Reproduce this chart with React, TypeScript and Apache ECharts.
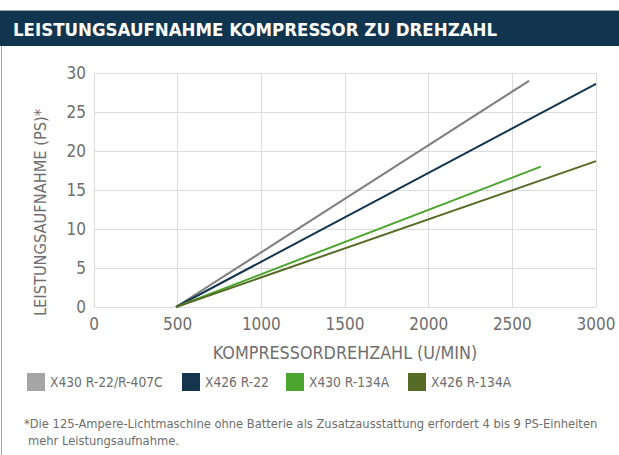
import React, { useEffect, useRef } from "react";
import * as echarts from "echarts";

const TITLE = "LEISTUNGSAUFNAHME KOMPRESSOR ZU DREHZAHL";
const X_NAME = "KOMPRESSORDREHZAHL (U/MIN)";
const Y_NAME = "LEISTUNGSAUFNAHME (PS)*";
const FOOT_1 = "*Die 125-Ampere-Lichtmaschine ohne Batterie als Zusatzausstattung erfordert 4 bis 9 PS-Einheiten";
const FOOT_2 = "mehr Leistungsaufnahme.";

const seriesNames = ["X430 R-22/R-407C", "X426 R-22", "X430 R-134A", "X426 R-134A"];
const lineColors = ["#7f7f7f", "#15354f", "#4ca52e", "#566b26"];
const legendColors = ["#a5a5a5", "#15354f", "#4ca52e", "#566b26"];

// rpm (x) and PS (y) for each series
const rpmX430R22 = [490, 2600];
const psX430R22 = [0, 29];
const rpmX426R22 = [490, 3000];
const psX426R22 = [0, 28.6];
const rpmX430R134A = [490, 2670];
const psX430R134A = [0, 18];
const rpmX426R134A = [490, 3000];
const psX426R134A = [0, 18.7];

const xTicks = [0, 500, 1000, 1500, 2000, 2500, 3000];
const yTicks = [0, 5, 10, 15, 20, 25, 30];

const FONT = '"DejaVu Sans Condensed", "Liberation Sans Narrow", "Open Sans", sans-serif';

const pair = (xs: number[], ys: number[]) => xs.map((x, i) => [x, ys[i]]);

export default function App() {
  const ref = useRef<HTMLDivElement>(null);
  useEffect(() => {
    document.body.style.margin = "0";
    if (!ref.current) return;
    const chart = echarts.init(ref.current, undefined, { renderer: "svg" });
    const data = [
      pair(rpmX430R22, psX430R22),
      pair(rpmX426R22, psX426R22),
      pair(rpmX430R134A, psX430R134A),
      pair(rpmX426R134A, psX426R134A),
    ];
    const legendLeft = [27, 182, 286, 408];
    chart.setOption({
      animation: false,
      backgroundColor: "#ffffff",
      textStyle: { fontFamily: FONT },
      grid: { left: 94, right: 23, top: 73, bottom: 148, containLabel: false },
      xAxis: {
        type: "value",
        min: xTicks[0],
        max: xTicks[xTicks.length - 1],
        interval: 500,
        name: X_NAME,
        nameLocation: "middle",
        nameGap: 36,
        nameTextStyle: { color: "#6e6e6e", fontSize: 17.8, fontFamily: FONT },
        axisLine: { show: true, lineStyle: { color: "#dcdcdc", width: 1 } },
        axisTick: { show: false },
        axisLabel: { color: "#6e6e6e", fontSize: 17, margin: 8, fontFamily: FONT, formatter: (v: number) => String(v) },
        splitLine: { show: true, lineStyle: { color: "#dcdcdc", width: 1 } },
      },
      yAxis: {
        type: "value",
        min: yTicks[0],
        max: yTicks[yTicks.length - 1],
        interval: 5,
        name: Y_NAME,
        nameLocation: "middle",
        nameGap: 46,
        nameRotate: 90,
        nameTextStyle: { color: "#6e6e6e", fontSize: 16.3, fontFamily: FONT, padding: [0, 45, 0, 0] },
        axisLine: { show: true, lineStyle: { color: "#dcdcdc", width: 1 } },
        axisTick: { show: false },
        axisLabel: { color: "#6e6e6e", fontSize: 17, margin: 8, fontFamily: FONT, formatter: (v: number) => String(v) },
        splitLine: { show: true, lineStyle: { color: "#dcdcdc", width: 1 } },
      },
      legend: seriesNames.map((n, i) => ({
        data: [{ name: n, itemStyle: { color: legendColors[i] } }],
        left: legendLeft[i],
        top: 373,
        icon: "rect",
        itemWidth: 18,
        itemHeight: 18,
        itemGap: 4,
        padding: 0,
        textStyle: { color: "#6e6e6e", fontSize: 13.7, fontFamily: FONT, padding: [5, 0, 0, 0] },
      })),
      series: seriesNames.map((n, i) => ({
        name: n,
        type: "line",
        data: data[i],
        showSymbol: false,
        symbol: "none",
        lineStyle: { color: lineColors[i], width: 2 },
        itemStyle: { color: legendColors[i] },
      })),
      graphic: [
        { type: "rect", shape: { x: 0, y: 10, width: 619, height: 36 }, style: { fill: "#12354f" }, silent: true },
        { type: "line", shape: { x1: 0, y1: 10.5, x2: 619, y2: 10.5 }, style: { stroke: "#9aa6b0", lineWidth: 1 }, silent: true },
        { type: "line", shape: { x1: 1.5, y1: 46, x2: 1.5, y2: 455 }, style: { stroke: "#a8a8a8", lineWidth: 1 }, silent: true },
        {
          type: "text",
          x: 13,
          y: 29.5,
          style: { text: TITLE, fill: "#ffffff", fontSize: 18.5, fontWeight: "bold", fontFamily: FONT, verticalAlign: "middle" },
        },
        {
          type: "text",
          x: 24,
          y: 423.5,
          style: { text: FOOT_1, fill: "#6e6e6e", fontSize: 12.8, fontFamily: FONT, verticalAlign: "middle" },
        },
        {
          type: "text",
          x: 28,
          y: 440,
          style: { text: FOOT_2, fill: "#6e6e6e", fontSize: 12.8, fontFamily: FONT, verticalAlign: "middle" },
        },
      ],
    });
    return () => chart.dispose();
  }, []);
  return <div ref={ref} style={{ width: 619, height: 455 }} />;
}
